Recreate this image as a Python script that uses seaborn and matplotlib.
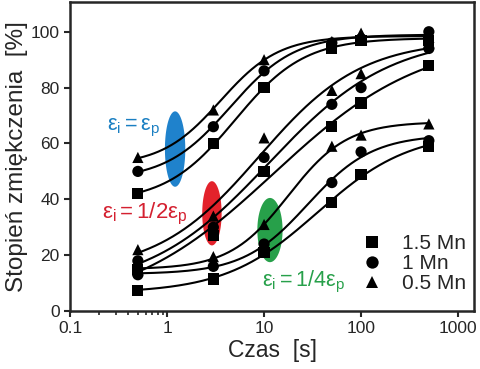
import matplotlib
matplotlib.use("Agg")
import matplotlib.pyplot as plt
import matplotlib.ticker as mticker
import numpy as np
import pandas as pd
import seaborn as sns

# ── data ────────────────────────────────────────────────────────────────
time_s = [0.5, 3, 10, 50, 100, 500]
materials = ["1.5 Mn", "1 Mn", "0.5 Mn"]

# εi = εp
full_15mn = [42, 60, 80, 94, 97, 97]
full_1mn = [50, 66, 86, 96, 97.5, 100]
full_05mn = [55, 72, 90, 96.5, 99.5, 98]

# εi = 1/2 εp
half_15mn = [15, 27, 50, 66, 74.5, 88]
half_1mn = [18, 30, 55, 74, 80, 94]
half_05mn = [22, 34, 62, 79, 85, 96]

# εi = 1/4 εp
quarter_15mn = [7.5, 11.5, 21, 39, 49, 59]
quarter_1mn = [13, 16, 24, 46, 57, 61]
quarter_05mn = [14.5, 19.5, 31, 59, 63, 67]

groups = {
    "full": [full_15mn, full_1mn, full_05mn],
    "half": [half_15mn, half_1mn, half_05mn],
    "quarter": [quarter_15mn, quarter_1mn, quarter_05mn],
}

rows = []
for g, series in groups.items():
    for mat, vals in zip(materials, series):
        for t, v in zip(time_s, vals):
            rows.append({"group": g, "material": mat, "time": t, "value": v})
df = pd.DataFrame(rows)


def sigmoid_fit(t, y):
    """Least-squares logistic fit in log10(t): grid over slope/centre, linear in the plateaus."""
    u = np.log10(np.asarray(t, float))
    y = np.asarray(y, float)
    best = None
    for k in np.linspace(0.8, 6, 53):
        for u0 in np.linspace(-1, 3.5, 91):
            s = 1 / (1 + np.exp(-k * (u - u0)))
            M = np.column_stack([1 - s, s])
            ab, *_ = np.linalg.lstsq(M, y, rcond=None)
            err = np.sum((M @ ab - y) ** 2)
            if best is None or err < best[0]:
                best = (err, k, u0, ab)
    _, k, u0, (a, b) = best
    return lambda tt: a + (b - a) / (1 + np.exp(-k * (np.log10(tt) - u0)))


# ── style ───────────────────────────────────────────────────────────────
sns.set_style("ticks")
plt.rcParams["font.family"] = ["Liberation Sans", "DejaVu Sans"]
plt.rcParams["mathtext.fontset"] = "custom"
plt.rcParams["mathtext.rm"] = "Liberation Sans"
plt.rcParams["mathtext.it"] = "Liberation Sans"

fig = plt.figure(figsize=(4.8, 3.69), dpi=100)
ax = fig.add_axes([0.146, 0.157, 0.8415, 0.838])

# ── ellipses (under the curves) ─────────────────────────────────────────
def ellipse(ax, xc, yc, half_dec, half_h, color):
    t = np.linspace(0, 2 * np.pi, 100)
    xs = 10 ** (np.log10(xc) + half_dec * np.cos(t))
    ys = yc + half_h * np.sin(t)
    ax.fill(xs, ys, color=color, lw=0, zorder=1)

ellipse(ax, 1.21, 58, 0.105, 13.5, "#1f82cc")
ellipse(ax, 2.9, 35, 0.10, 11.5, "#e3222b")
ellipse(ax, 11.5, 29, 0.13, 11.5, "#27a04a")

# ── fitted curves ───────────────────────────────────────────────────────
t_fine = np.logspace(np.log10(0.5), np.log10(500), 200)
for (g, mat), sub in df.groupby(["group", "material"]):
    f = sigmoid_fit(sub["time"], sub["value"])
    ax.plot(t_fine, f(t_fine), color="black", lw=1.5, zorder=2)

markers = {"1.5 Mn": "s", "1 Mn": "o", "0.5 Mn": "^"}
sns.scatterplot(
    data=df, x="time", y="value", style="material", markers=markers,
    style_order=materials, color="black", s=65, edgecolor="black",
    linewidth=0, ax=ax, zorder=3,
)

# ── axes ────────────────────────────────────────────────────────────────
ax.set_xscale("log")
ax.set_xlim(0.1, 1460)
ax.set_ylim(0, 110.7)
ax.xaxis.set_major_locator(mticker.FixedLocator([0.1, 1, 10, 100, 1000]))
ax.xaxis.set_major_formatter(mticker.FixedFormatter(["0.1", "1", "10", "100", "1000"]))
ax.xaxis.set_minor_locator(mticker.FixedLocator([0.2, 0.3, 0.4, 0.5, 0.6, 0.7, 0.8, 0.9]))
ax.set_yticks([0, 20, 40, 60, 80, 100])
ax.tick_params(axis="both", which="major", labelsize=12.5, length=4, width=1.5, direction="out")
ax.tick_params(axis="x", which="minor", length=3, width=1.2, direction="out")
for sp in ax.spines.values():
    sp.set_linewidth(1.8)
    sp.set_visible(True)

ax.set_xlabel("Czas  [s]", fontsize=16.5, labelpad=2)
ax.set_ylabel("Stopień zmiękczenia  [%]", fontsize=17.5, labelpad=2)

# ── annotations ─────────────────────────────────────────────────────────
ax.text(0.24, 65.5, r"$\mathregular{ε_i = ε_p}$", color="#1a7fc2", fontsize=15.5, va="center")
ax.text(0.215, 34.8, r"$\mathregular{ε_i = 1/2ε_p}$", color="#d42030", fontsize=16, va="center")
ax.text(9.5, 10.5, r"$\mathregular{ε_i = 1/4ε_p}$", color="#27a04a", fontsize=15.5, va="center")

ax.legend(
    loc="lower right", bbox_to_anchor=(1.0, 0.03), frameon=False, fontsize=15,
    labelspacing=0.05, handletextpad=0.4, borderaxespad=0.0, markerscale=1.1,
)

fig.savefig("out.png", dpi=100)
